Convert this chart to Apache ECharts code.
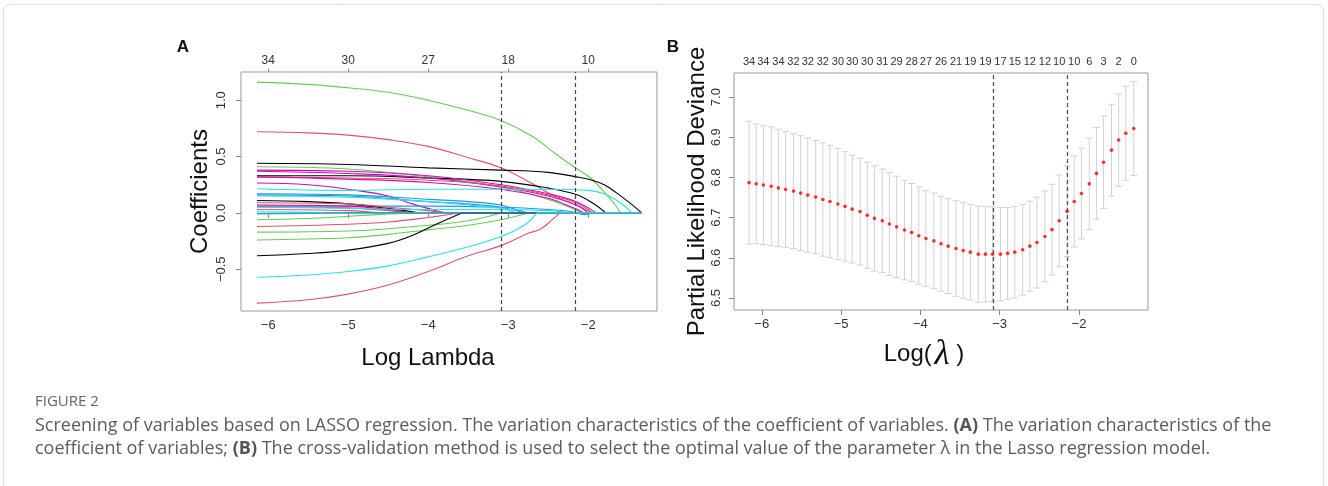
<!DOCTYPE html>
<html>
<head>
<meta charset="utf-8">
<script src="https://cdn.jsdelivr.net/npm/echarts@6.0.0/dist/echarts.min.js"></script>
<style>
  html, body { margin: 0; padding: 0; background: #fff; }
  #chart { width: 1328px; height: 486px; }
</style>
</head>
<body>
<div id="chart"></div>
<script>
// ---- panel A : coefficient paths ----
const lamTicks = [-6, -5, -4, -3, -2];
const dfTopA = [34, 30, 27, 18, 10];
const coefTicks = [-0.5, 0, 0.5, 1.0];
const cutsA = [-3.09, -2.16];
const lamEndA = -1.33;

const C_BLACK = '#000000', C_RED = '#DF536B', C_GREEN = '#61D04F',
      C_BLUE = '#2297E6', C_CYAN = '#28E2E5', C_MAG = '#CD0BBC';

const v01 = [[-6.14,1.16],[-5.5,1.14],[-5.0,1.11],[-4.5,1.07],[-4.0,1.0],[-3.5,0.91],[-3.09,0.82],[-2.7,0.68],[-2.4,0.52],[-2.16,0.40],[-1.97,0.31],[-1.77,0.16],[-1.64,0.05],[-1.60,0]];
const v02 = [[-6.14,0.72],[-5.5,0.71],[-5.0,0.69],[-4.5,0.65],[-4.0,0.59],[-3.5,0.49],[-3.09,0.40],[-2.7,0.26],[-2.4,0.14],[-2.15,0.07],[-1.95,0]];
const v03 = [[-6.14,0.44],[-5,0.43],[-4,0.40],[-3.09,0.38],[-2.5,0.36],[-2.15,0.32],[-1.95,0.29],[-1.8,0.25],[-1.65,0.18],[-1.5,0.10],[-1.33,0]];
const v04 = [[-6.14,0.41],[-5,0.39],[-4,0.32],[-3.09,0.23],[-2.5,0.12],[-2.2,0.04],[-2.08,0]];
const v05 = [[-6.14,0.33],[-5,0.33],[-4,0.31],[-3.09,0.28],[-2.5,0.22],[-2.16,0.165],[-1.95,0.09],[-1.78,0]];
const v06 = [[-6.14,0.38],[-5,0.37],[-4,0.33],[-3.09,0.25],[-2.5,0.17],[-2.15,0.10],[-1.9,0]];
const v07 = [[-6.14,0.37],[-5,0.35],[-4,0.31],[-3.09,0.23],[-2.5,0.15],[-2.15,0.07],[-2.0,0]];
const v08 = [[-6.14,0.32],[-5,0.31],[-4,0.29],[-3.09,0.24],[-2.5,0.16],[-2.15,0.09],[-1.95,0]];
const v09 = [[-6.14,0.32],[-5,0.30],[-4,0.27],[-3.09,0.21],[-2.5,0.13],[-2.2,0.05],[-2.05,0]];
const v10 = [[-6.14,0.265],[-5.5,0.25],[-5,0.21],[-4.5,0.15],[-4.2,0.08],[-3.9,0.02],[-3.75,0]];
const v11 = [[-6.14,0.215],[-5,0.20],[-4,0.21],[-3.09,0.21],[-2.5,0.21],[-2.0,0.20],[-1.8,0.17],[-1.6,0.09],[-1.45,0]];
const v12 = [[-6.14,0.17],[-5,0.16],[-4,0.12],[-3.5,0.10],[-3.09,0.07],[-2.9,0.03],[-2.75,0]];
const v13 = [[-6.14,0.16],[-5,0.15],[-4,0.10],[-3.5,0.08],[-3.09,0.05],[-2.8,0]];
const v14 = [[-6.14,0.06],[-5,0.06],[-4,0.06],[-3.09,0.05],[-2.5,0.03],[-2.2,0.01],[-2.05,-0.015],[-1.95,0]];
const v15 = [[-6.14,0.15],[-5,0.14],[-4,0.10],[-3.5,0.07],[-3.09,0.04],[-2.9,0]];
const v16 = [[-6.14,0.11],[-5.5,0.10],[-5,0.08],[-4.5,0.04],[-4.1,0]];
const v17 = [[-6.14,0.09],[-5,0.08],[-4.5,0.05],[-4,0.02],[-3.8,0]];
const v18 = [[-6.14,0.055],[-5,0.045],[-4.5,0.02],[-4.2,0]];
const v19 = [[-6.14,0.03],[-5,0.02],[-4.6,0]];
const v20 = [[-6.14,0.07],[-5,0.06],[-4.5,0.03],[-4.2,0]];
const v21 = [[-6.14,0.01],[-5.5,0.005],[-5,0]];
const v22 = [[-6.14,-0.01],[-5.5,-0.005],[-5,0]];
const v23 = [[-6.14,0.05],[-5,0.04],[-4,0.03],[-3.09,0.03],[-2.5,0.02],[-2.2,0]];
const v24 = [[-6.14,-0.06],[-5.5,-0.05],[-5,-0.03],[-4.5,-0.01],[-4.2,0]];
const v25 = [[-6.14,-0.17],[-5,-0.16],[-4.5,-0.14],[-4,-0.11],[-3.5,-0.07],[-3.09,0]];
const v26 = [[-6.14,-0.24],[-5,-0.22],[-4.5,-0.19],[-4,-0.15],[-3.5,-0.11],[-3.09,-0.06],[-2.75,0]];
const v27 = [[-6.14,-0.12],[-5,-0.10],[-4.5,-0.08],[-4,-0.04],[-3.6,0]];
const v28 = [[-6.14,-0.38],[-5.5,-0.36],[-5,-0.33],[-4.5,-0.27],[-4.2,-0.2],[-3.9,-0.1],[-3.58,0]];
const v29 = [[-6.14,-0.80],[-5.5,-0.77],[-5,-0.72],[-4.5,-0.64],[-4,-0.52],[-3.5,-0.38],[-3.09,-0.29],[-2.75,-0.18],[-2.6,-0.145],[-2.45,-0.06],[-2.35,0]];
const v30 = [[-6.14,-0.005],[-5,0]];
const v31 = [[-6.14,-0.57],[-5.5,-0.55],[-5,-0.52],[-4.5,-0.47],[-4,-0.39],[-3.5,-0.30],[-3.09,-0.21],[-2.8,-0.11],[-2.64,0]];

const paths = [v01, v02, v03, v04, v05, v06, v07, v08, v09, v10, v11, v12, v13, v14, v15, v16,
               v17, v18, v19, v20, v21, v22, v23, v24, v25, v26, v27, v28, v29, v30, v31];
const pathColors = [C_GREEN, C_RED, C_BLACK, C_GREEN, C_BLACK, C_MAG, C_MAG, C_RED, C_MAG, C_MAG, C_CYAN, C_BLUE, C_BLUE, C_BLUE, C_CYAN, C_BLACK,
                    C_RED, C_RED, C_RED, C_MAG, C_CYAN, C_GREEN, C_CYAN, C_GREEN, C_GREEN, C_GREEN, C_RED, C_BLACK, C_RED, C_BLUE, C_CYAN];

// ---- panel B : cross-validation ----
const lamB = [-6.16, -6.07, -5.98, -5.88, -5.79, -5.70, -5.60, -5.51, -5.42, -5.32,
              -5.23, -5.14, -5.04, -4.95, -4.86, -4.76, -4.67, -4.58, -4.48, -4.39,
              -4.30, -4.20, -4.11, -4.02, -3.93, -3.83, -3.74, -3.65, -3.55, -3.46,
              -3.37, -3.27, -3.18, -3.09, -2.99, -2.90, -2.81, -2.71, -2.62, -2.53,
              -2.43, -2.34, -2.25, -2.15, -2.06, -1.97, -1.87, -1.78, -1.69, -1.59,
              -1.50, -1.41, -1.31];
const cvm = [6.787, 6.784, 6.781, 6.778, 6.774, 6.770, 6.766, 6.761, 6.756, 6.751,
             6.745, 6.740, 6.734, 6.728, 6.721, 6.715, 6.706, 6.698, 6.692, 6.684,
             6.677, 6.669, 6.663, 6.655, 6.648, 6.642, 6.635, 6.629, 6.623, 6.618,
             6.614, 6.609, 6.609, 6.609, 6.609, 6.611, 6.614, 6.620, 6.629, 6.638,
             6.653, 6.670, 6.692, 6.716, 6.740, 6.760, 6.784, 6.810, 6.838, 6.868,
             6.893, 6.910, 6.922];
const cvsd = [0.153, 0.149, 0.148, 0.148, 0.146, 0.144, 0.143, 0.143, 0.142, 0.141,
              0.141, 0.140, 0.138, 0.136, 0.134, 0.133, 0.132, 0.131, 0.129, 0.128,
              0.126, 0.124, 0.122, 0.121, 0.119, 0.119, 0.118, 0.118, 0.119, 0.119,
              0.119, 0.120, 0.119, 0.118, 0.116, 0.114, 0.114, 0.113, 0.112, 0.113,
              0.113, 0.113, 0.114, 0.113, 0.113, 0.113, 0.114, 0.114, 0.115, 0.114,
              0.115, 0.117, 0.117];
const nzB = [34, 34, 34, 32, 32, 32, 30, 30, 30, 31, 29, 28, 27, 26, 21, 19, 19, 17, 15, 12, 12, 10, 10, 6, 3, 2, 0];
const devTicks = [6.5, 6.6, 6.7, 6.8, 6.9, 7.0];
const cutsB = [-3.08, -2.15];

const FONT = 'Liberation Sans, Arial, Helvetica, sans-serif';
const minus = (s) => s.replace('-', '\u2212');
const nearestIdx = (arr, v) => {
  let best = 0;
  arr.forEach((a, i) => { if (Math.abs(a - v) < Math.abs(arr[best] - v)) best = i; });
  return best;
};
const topB = lamB.filter((_, i) => i % 2 === 0);

const tickLabel = { fontSize: 13, color: '#333', fontFamily: FONT };
const tick = (vals, len) => ({ show: true, length: len, customValues: vals, lineStyle: { color: '#888', width: 1 } });
const titleStyle = { fontSize: 24, color: '#111', fontFamily: FONT };

const series = [];
paths.forEach((p, i) => {
  const c = pathColors[i];
  series.push({
    type: 'line', xAxisIndex: 0, yAxisIndex: 0, data: p, smooth: 0.4,
    showSymbol: false, silent: true, lineStyle: { color: c, width: 1.1 }
  });
  const last = p[p.length - 1];
  if (last[0] < lamEndA) {
    series.push({
      type: 'line', xAxisIndex: 0, yAxisIndex: 0, data: [[last[0], 0], [lamEndA, 0]],
      showSymbol: false, silent: true, lineStyle: { color: c, width: 1.1 }
    });
  }
});
series.push({
  type: 'line', xAxisIndex: 0, yAxisIndex: 0, data: [], silent: true,
  markLine: {
    silent: true, symbol: 'none', label: { show: false },
    lineStyle: { type: [4, 3], color: '#444', width: 1.2 },
    data: cutsA.map(v => ({ xAxis: v }))
  }
});

series.push({
  type: 'custom', xAxisIndex: 2, yAxisIndex: 1,
  data: lamB.map((x, i) => [x, cvm[i] - cvsd[i], cvm[i] + cvsd[i]]),
  encode: { x: 0, y: [1, 2] },
  silent: true,
  renderItem: (params, api) => {
    const lo = api.coord([api.value(0), api.value(1)]);
    const hi = api.coord([api.value(0), api.value(2)]);
    const w = 3.5;
    const st = { stroke: '#d2d2d2', lineWidth: 1 };
    return {
      type: 'group', children: [
        { type: 'line', shape: { x1: lo[0], y1: lo[1], x2: hi[0], y2: hi[1] }, style: st },
        { type: 'line', shape: { x1: lo[0] - w, y1: lo[1], x2: lo[0] + w, y2: lo[1] }, style: st },
        { type: 'line', shape: { x1: hi[0] - w, y1: hi[1], x2: hi[0] + w, y2: hi[1] }, style: st }
      ]
    };
  }
});
series.push({
  type: 'scatter', xAxisIndex: 2, yAxisIndex: 1,
  data: lamB.map((x, i) => [x, cvm[i]]),
  symbolSize: 3.6, itemStyle: { color: '#ff0000' }, silent: true, z: 5,
  markLine: {
    silent: true, symbol: 'none', label: { show: false },
    lineStyle: { type: [4, 3], color: '#555', width: 1.3 },
    data: cutsB.map(v => ({ xAxis: v }))
  }
});

const captionStyle = { fontFamily: 'Open Sans, sans-serif', fontSize: 18, fill: '#5c5c5c' };
const boldRich = { b: { fontFamily: 'Open Sans, sans-serif', fontSize: 18, fontWeight: 'bold', fill: '#555' } };

const option = {
  animation: false,
  backgroundColor: '#ffffff',
  grid: [
    { left: 241, top: 72, width: 416, height: 239, show: true, borderColor: '#999', borderWidth: 1, outerBoundsMode: 'none' },
    { left: 734, top: 73, width: 414, height: 237, show: true, borderColor: '#999', borderWidth: 1, outerBoundsMode: 'none' }
  ],
  xAxis: [
    {
      gridIndex: 0, type: 'value', min: -6.34, max: -1.14, position: 'bottom',
      axisLine: { show: false }, splitLine: { show: false },
      axisTick: tick(lamTicks, 5),
      axisLabel: Object.assign({ customValues: lamTicks, margin: 8, formatter: v => minus(String(v)) }, tickLabel),
      name: 'Log Lambda', nameLocation: 'middle', nameGap: 35,
      nameTextStyle: Object.assign({ padding: [0, 42, 0, 0] }, titleStyle)
    },
    {
      gridIndex: 0, type: 'value', min: -6.34, max: -1.14, position: 'top',
      axisLine: { show: false }, splitLine: { show: false },
      axisTick: tick(lamTicks, 3),
      axisLabel: { customValues: lamTicks, margin: 5, fontSize: 12, color: '#333', fontFamily: FONT,
                   formatter: v => String(dfTopA[nearestIdx(lamTicks, v)]) }
    },
    {
      gridIndex: 1, type: 'value', min: -6.35, max: -1.13, position: 'bottom',
      axisLine: { show: false }, splitLine: { show: false },
      axisTick: tick(lamTicks, 5),
      axisLabel: Object.assign({ customValues: lamTicks, margin: 8, formatter: v => minus(String(v)) }, tickLabel),
      name: '{a|Log(}{s| }{l|λ}{a| )}', nameLocation: 'middle', nameGap: 27,
      nameTextStyle: {
        padding: [0, 34, 0, 0],
        rich: {
          a: titleStyle,
          s: { fontSize: 10 },
          l: { fontSize: 35, color: '#111', fontFamily: 'Liberation Serif, serif', fontStyle: 'italic' }
        }
      }
    },
    {
      gridIndex: 1, type: 'value', min: -6.35, max: -1.13, position: 'top',
      axisLine: { show: false }, splitLine: { show: false }, axisTick: { show: false },
      axisLabel: { customValues: topB, margin: 6, fontSize: 11, color: '#333', fontFamily: FONT,
                   formatter: v => String(nzB[nearestIdx(topB, v)]) }
    }
  ],
  yAxis: [
    {
      gridIndex: 0, type: 'value', min: -0.87, max: 1.25,
      axisLine: { show: false }, splitLine: { show: false },
      axisTick: tick(coefTicks, 5),
      axisLabel: Object.assign({ customValues: coefTicks, rotate: 90, margin: 13,
                                 formatter: v => minus(v.toFixed(1)) }, tickLabel),
      name: 'Coefficients', nameLocation: 'middle', nameGap: 29,
      nameTextStyle: titleStyle
    },
    {
      gridIndex: 1, type: 'value', min: 6.47, max: 7.06,
      axisLine: { show: false }, splitLine: { show: false },
      axisTick: tick(devTicks, 5),
      axisLabel: Object.assign({ customValues: devTicks, rotate: 90, margin: 11,
                                 formatter: v => v.toFixed(1) }, tickLabel),
      name: 'Partial Likelihood Deviance', nameLocation: 'middle', nameGap: 25,
      nameTextStyle: titleStyle
    }
  ],
  graphic: [
    { type: 'rect', shape: { x: 3.5, y: 4.5, width: 1320, height: 520, r: 6 }, style: { fill: 'none', stroke: '#dcdcdc', lineWidth: 1 }, silent: true },
    { type: 'text', style: { x: 183, y: 47, text: 'A', fontSize: 17, fontWeight: 'bold', fontFamily: FONT, fill: '#111', align: 'center', verticalAlign: 'middle' } },
    { type: 'text', style: { x: 673, y: 47, text: 'B', fontSize: 17, fontWeight: 'bold', fontFamily: FONT, fill: '#111', align: 'center', verticalAlign: 'middle' } },
    { type: 'text', style: { x: 35, y: 402, text: 'FIGURE 2', fontSize: 15, fontFamily: 'Open Sans, sans-serif', fill: '#666', verticalAlign: 'middle' } },
    { type: 'text', style: Object.assign({ x: 35, y: 426, verticalAlign: 'middle', rich: boldRich,
      text: 'Screening of variables based on LASSO regression. The variation characteristics of the coefficient of variables. {b|(A)} The variation characteristics of the' }, captionStyle) },
    { type: 'text', style: Object.assign({ x: 35, y: 449, verticalAlign: 'middle', rich: boldRich,
      text: 'coefficient of variables; {b|(B)} The cross-validation method is used to select the optimal value of the parameter λ in the Lasso regression model.' }, captionStyle) }
  ],
  series: series
};

const chart = echarts.init(document.getElementById('chart'));
chart.setOption(option);
</script>
</body>
</html>
